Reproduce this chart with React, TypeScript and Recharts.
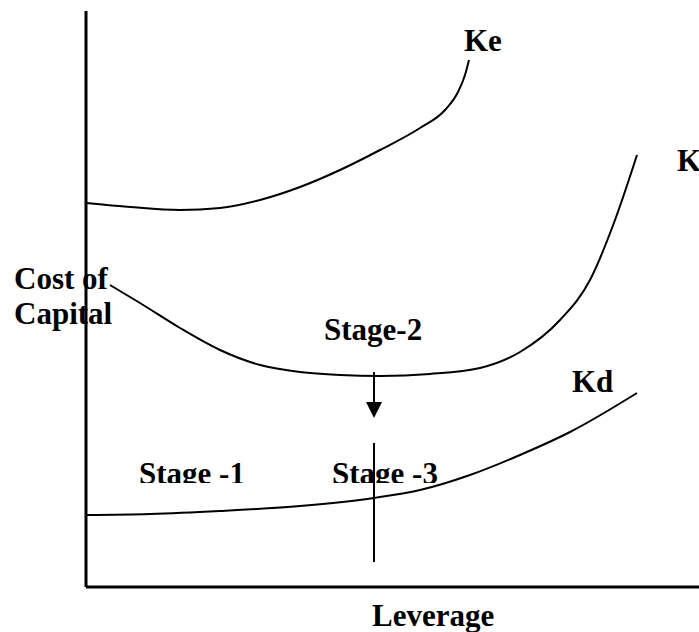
import React from "react";
import {
  ComposedChart,
  Line,
  XAxis,
  YAxis,
  ReferenceLine,
  ReferenceDot,
} from "recharts";

// curve points (x = leverage, y = cost of capital, chart units)
const keCurve = [
  { x: 0, y: 384 },
  { x: 44, y: 380 },
  { x: 94, y: 377 },
  { x: 134, y: 379 },
  { x: 174, y: 387 },
  { x: 214, y: 400 },
  { x: 254, y: 417 },
  { x: 294, y: 437 },
  { x: 334, y: 459 },
  { x: 359, y: 477 },
  { x: 372, y: 495 },
  { x: 379, y: 512 },
  { x: 383, y: 527 },
];

const kCurve = [
  { x: 24, y: 302 },
  { x: 54, y: 284 },
  { x: 94, y: 259 },
  { x: 134, y: 237 },
  { x: 174, y: 222 },
  { x: 214, y: 215 },
  { x: 254, y: 212 },
  { x: 294, y: 211 },
  { x: 344, y: 213 },
  { x: 394, y: 219 },
  { x: 434, y: 235 },
  { x: 474, y: 267 },
  { x: 504, y: 307 },
  { x: 529, y: 367 },
  { x: 551, y: 432 },
];

const kdCurve = [
  { x: 0, y: 72 },
  { x: 64, y: 73 },
  { x: 134, y: 76 },
  { x: 214, y: 81 },
  { x: 288, y: 89 },
  { x: 334, y: 97 },
  { x: 384, y: 112 },
  { x: 434, y: 132 },
  { x: 484, y: 155 },
  { x: 551, y: 194 },
];

const xDomain = [0, 613];
const yDomain = [0, 576];

const stageDivider = { x: 288, y1: 25, y2: 144 };
const stageArrow = { x: 288, from: 215, to: 185, tip: 169 };

const labels = [
  { text: "Ke", x: 378, y: 536, clip: false },
  { text: "K", x: 591, y: 416, clip: false },
  { text: "Kd", x: 486, y: 195, clip: false },
  { text: "Cost of", x: -72, y: 298, clip: false },
  { text: "Capital", x: -72, y: 263, clip: false },
  { text: "Stage-2", x: 238, y: 247, clip: false },
  { text: "Stage -1", x: 53, y: 103, clip: true },
  { text: "Stage -3", x: 246, y: 103, clip: true },
  { text: "Leverage", x: 286, y: -39, clip: false },
];

const FONT = "'Liberation Serif', 'Times New Roman', serif";

function LabelText(props: any) {
  const { cx, cy, text, clip, idx } = props;
  if (cx == null || cy == null) return null;
  const id = `lblclip-${idx}`;
  return (
    <g>
      {clip && (
        <clipPath id={id}>
          <rect x={cx - 5} y={cy - 40} width={200} height={39} />
        </clipPath>
      )}
      <text
        x={cx}
        y={cy}
        textAnchor="start"
        fontFamily={FONT}
        fontWeight="bold"
        fontSize={31}
        fill="#000"
        clipPath={clip ? `url(#${id})` : undefined}
      >
        {text}
      </text>
    </g>
  );
}

function ArrowHead(props: any) {
  const { cx, cy } = props;
  if (cx == null || cy == null) return null;
  return (
    <polygon
      points={`${cx},${cy} ${cx - 8},${cy - 16} ${cx + 8},${cy - 16}`}
      fill="#000"
    />
  );
}

export default function App() {
  return (
    <div style={{ position: "absolute", left: 0, top: 0, background: "#fff" }}>
      <ComposedChart
        width={699}
        height={632}
        margin={{ top: 11, right: 0, left: 86, bottom: 45 }}
      >
        <XAxis type="number" dataKey="x" domain={xDomain} hide />
        <YAxis type="number" dataKey="y" domain={yDomain} hide />
        {/* axes */}
        <ReferenceLine
          segment={[
            { x: xDomain[0], y: yDomain[0] },
            { x: xDomain[0], y: yDomain[1] },
          ]}
          stroke="#000"
          strokeWidth={3}
          ifOverflow="visible"
        />
        <ReferenceLine
          segment={[
            { x: xDomain[0], y: yDomain[0] },
            { x: xDomain[1], y: yDomain[0] },
          ]}
          stroke="#000"
          strokeWidth={3}
          ifOverflow="visible"
        />
        <Line
          data={keCurve}
          dataKey="y"
          type="monotone"
          stroke="#000"
          strokeWidth={2}
          dot={false}
          isAnimationActive={false}
        />
        <Line
          data={kCurve}
          dataKey="y"
          type="monotone"
          stroke="#000"
          strokeWidth={2}
          dot={false}
          isAnimationActive={false}
        />
        <Line
          data={kdCurve}
          dataKey="y"
          type="monotone"
          stroke="#000"
          strokeWidth={2}
          dot={false}
          isAnimationActive={false}
        />
        <ReferenceLine
          segment={[
            { x: stageDivider.x, y: stageDivider.y1 },
            { x: stageDivider.x, y: stageDivider.y2 },
          ]}
          stroke="#000"
          strokeWidth={2}
        />
        <ReferenceLine
          segment={[
            { x: stageArrow.x, y: stageArrow.from },
            { x: stageArrow.x, y: stageArrow.to },
          ]}
          stroke="#000"
          strokeWidth={2}
        />
        <ReferenceDot
          x={stageArrow.x}
          y={stageArrow.tip}
          r={0}
          ifOverflow="visible"
          shape={(p: any) => <ArrowHead {...p} />}
        />
        {labels.map((l, i) => (
          <ReferenceDot
            key={l.text}
            x={l.x}
            y={l.y}
            r={0}
            ifOverflow="visible"
            shape={(p: any) => (
              <LabelText {...p} text={l.text} clip={l.clip} idx={i} />
            )}
          />
        ))}
      </ComposedChart>
    </div>
  );
}
